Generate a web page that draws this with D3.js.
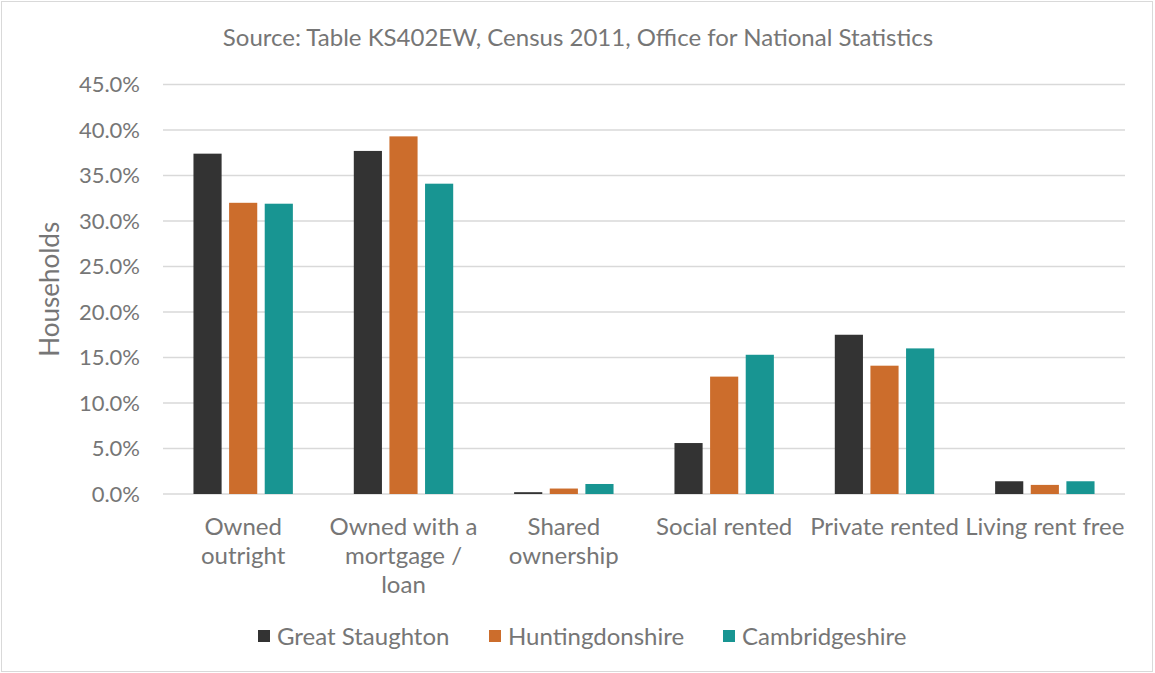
<!DOCTYPE html>
<html>
<head>
<meta charset="utf-8">
<script src="https://cdn.jsdelivr.net/npm/d3@7"></script>
<style>
  html, body { margin: 0; padding: 0; background: #fff; }
  svg { display: block; font-family: Lato, "Open Sans", sans-serif; }
</style>
</head>
<body>
<svg id="chart" width="1155" height="673"></svg>
<script>
// Household tenure shares, Census 2011
const categories = ["Owned outright", "Owned with a mortgage / loan", "Shared ownership",
                    "Social rented", "Private rented", "Living rent free"];
const categoryLines = [["Owned", "outright"], ["Owned with a", "mortgage /", "loan"],
                       ["Shared", "ownership"], ["Social rented"], ["Private rented"], ["Living rent free"]];
const seriesNames = ["Great Staughton", "Huntingdonshire", "Cambridgeshire"];
const greatStaughton = [37.4, 37.7, 0.2, 5.6, 17.5, 1.4];
const huntingdonshire = [32.0, 39.3, 0.6, 12.9, 14.1, 1.0];
const cambridgeshire = [31.9, 34.1, 1.1, 15.3, 16.0, 1.4];
const yTicks = [0, 5, 10, 15, 20, 25, 30, 35, 40, 45];
const colors = ["#333333", "#cc6d2c", "#189592"];

const seriesValues = [greatStaughton, huntingdonshire, cambridgeshire];
const textColor = "#767676";

const svg = d3.select("#chart");
const W = 1155, H = 673;
const plot = { left: 163, right: 1125, top: 84.5, bottom: 494 };

// outer chart frame
svg.append("rect")
  .attr("x", 1.5).attr("y", 1.5)
  .attr("width", W - 4).attr("height", H - 3)
  .attr("fill", "#fff").attr("stroke", "#d9d9d9").attr("stroke-width", 1);

const x0 = d3.scaleBand().domain(categories)
  .range([plot.left, plot.right]).paddingInner(0.38).paddingOuter(0.19);
const x1 = d3.scaleBand().domain(seriesNames)
  .range([0, x0.bandwidth()]).paddingInner(0.21).paddingOuter(0);
const y = d3.scaleLinear().domain([0, 45]).range([plot.bottom, plot.top]);

// gridlines
svg.append("g").selectAll("line").data(yTicks).join("line")
  .attr("x1", plot.left).attr("x2", plot.right)
  .attr("y1", d => y(d)).attr("y2", d => y(d))
  .attr("stroke", "#d9d9d9").attr("stroke-width", 1.5);

// y axis labels
const yAxis = d3.axisLeft(y).tickValues(yTicks)
  .tickFormat(d => d.toFixed(1) + "%").tickSize(0).tickPadding(0);
const yg = svg.append("g").attr("transform", `translate(${plot.left - 23},0)`).call(yAxis);
yg.select(".domain").remove();
yg.selectAll("text").attr("fill", textColor).attr("font-size", 22)
  .attr("font-family", "Lato, sans-serif");

// bars
const groups = svg.append("g").selectAll("g").data(categories).join("g")
  .attr("transform", d => `translate(${x0(d)},0)`);
groups.selectAll("rect")
  .data((c, i) => seriesNames.map((s, k) => ({ s, k, v: seriesValues[k][i] })))
  .join("rect")
  .attr("x", d => x1(d.s))
  .attr("width", x1.bandwidth())
  .attr("y", d => y(d.v))
  .attr("height", d => y(0) - y(d.v))
  .attr("fill", d => colors[d.k]);

// category labels
const xg = svg.append("g").selectAll("text").data(categories).join("text")
  .attr("x", d => x0(d) + x0.bandwidth() / 2)
  .attr("y", 535)
  .attr("text-anchor", "middle")
  .attr("fill", textColor).attr("font-size", 24);
xg.each(function (d, i) {
  const t = d3.select(this);
  categoryLines[i].forEach((line, j) => {
    t.append("tspan").attr("x", x0(d) + x0.bandwidth() / 2)
      .attr("dy", j === 0 ? 0 : 29).text(line);
  });
});

// title
svg.append("text")
  .attr("x", 578).attr("y", 46)
  .attr("text-anchor", "middle").attr("fill", textColor).attr("font-size", 24)
  .text("Source: Table KS402EW, Census 2011, Office for National Statistics");

// y axis title
svg.append("text")
  .attr("transform", `translate(59,${(plot.top + plot.bottom) / 2}) rotate(-90)`)
  .attr("text-anchor", "middle").attr("fill", textColor).attr("font-size", 26)
  .text("Households");

// legend
const legendX = [258, 489, 723];
const lg = svg.append("g").selectAll("g").data(seriesNames).join("g")
  .attr("transform", (d, i) => `translate(${legendX[i]},630)`);
lg.append("rect").attr("width", 12).attr("height", 12).attr("fill", (d, i) => colors[i]);
lg.append("text").attr("x", 19).attr("y", 14.5)
  .attr("fill", textColor).attr("font-size", 24).text(d => d);
</script>
</body>
</html>
